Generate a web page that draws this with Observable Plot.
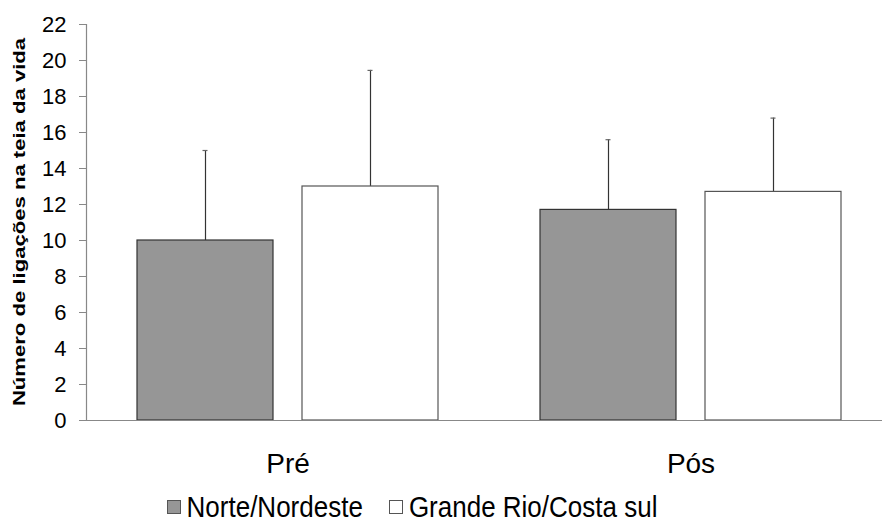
<!DOCTYPE html>
<html>
<head>
<meta charset="utf-8">
<script src="https://cdn.jsdelivr.net/npm/d3@7"></script>
<script src="https://cdn.jsdelivr.net/npm/@observablehq/plot@0.6"></script>
<style>
  html, body { margin: 0; padding: 0; background: #fff; }
  body { width: 882px; height: 530px; overflow: hidden; font-family: "Liberation Sans", Arial, sans-serif; }
  #legend { display: flex; justify-content: center; align-items: center; height: 44px; font-size: 26px; color: #000; margin-left: -58px; }
  .item { display: flex; align-items: center; margin: 0 13px; }
  .sw { width: 14px; height: 14px; border: 1px solid #555; margin-right: 6px; box-sizing: border-box; }
  .item span { display: inline-block; transform: scaleY(1.1); }
</style>
</head>
<body>
<div id="chart"></div>
<div id="legend"></div>
<script>
const categories = ["Pré", "Pós"];
const series = ["Norte/Nordeste", "Grande Rio/Costa sul"];
const meanNorte = [10.0, 11.7];
const meanGrande = [13.0, 12.7];
const errNorte = [5.0, 3.9];
const errGrande = [6.45, 4.1];
const yTicks = [0, 2, 4, 6, 8, 10, 12, 14, 16, 18, 20, 22];
const colors = ["#969696", "#ffffff"];
const strokes = ["#333333", "#555555"];

const data = [];
categories.forEach((c, i) => {
  data.push({cat: c, series: series[0], mean: meanNorte[i], err: errNorte[i]});
  data.push({cat: c, series: series[1], mean: meanGrande[i], err: errGrande[i]});
});

const plot = Plot.plot({
  width: 882,
  height: 485,
  marginTop: 24,
  marginBottom: 65,
  marginLeft: 86,
  marginRight: 0,
  style: {fontFamily: "Liberation Sans, Arial, sans-serif", background: "#fff"},
  fx: {domain: categories, range: [86, 892], padding: 0, label: null},
  x: {domain: series, paddingInner: 0.176, paddingOuter: 0.309, axis: null},
  y: {domain: [0, 22], label: null},
  color: {domain: series, range: colors},
  marks: [
    Plot.frame({anchor: "left", facetAnchor: "left", stroke: "#888", strokeWidth: 1.2}),
    Plot.axisY({ticks: yTicks, tickSize: 7, tickPadding: 13, fontSize: 22, stroke: "#888", color: "#000", label: null}),
    Plot.axisFx({anchor: "bottom", tickSize: 0, tickPadding: 33, fontSize: 28, label: null}),
    Plot.ruleX(data, {fx: "cat", x: "series", y1: "mean", y2: d => d.mean + d.err, stroke: "#333", strokeWidth: 1.2}),
    Plot.tickY(data, {fx: "cat", x: "series", y: d => d.mean + d.err, stroke: "#666", strokeWidth: 1.2, insetLeft: 65.5, insetRight: 65.5}),
    Plot.barY(data, {fx: "cat", x: "series", y: "mean", fill: "series", stroke: d => strokes[series.indexOf(d.series)], strokeWidth: 1.2}),
    Plot.ruleY([0], {stroke: "#888", strokeWidth: 1.2})
  ]
});
document.getElementById("chart").appendChild(plot);

// y-axis title
const svg = d3.select(plot);
svg.append("text")
  .attr("transform", "translate(25,222) rotate(-90) scale(1.3,1)")
  .attr("text-anchor", "middle")
  .attr("font-size", 17)
  .attr("font-weight", "bold")
  .attr("fill", "#000")
  .text("Número de ligações na teia da vida");

const legend = d3.select("#legend");
series.forEach((s, i) => {
  const it = legend.append("div").attr("class", "item");
  it.append("div").attr("class", "sw").style("background", colors[i]);
  it.append("span").text(s);
});
</script>
</body>
</html>
